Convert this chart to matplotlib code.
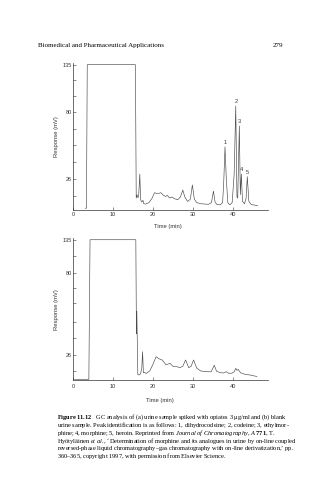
import numpy as np
import matplotlib.pyplot as plt

plt.rcParams['font.family'] = ['Liberation Sans', 'DejaVu Sans']
plt.rcParams['mathtext.fontset'] = 'custom'
plt.rcParams['mathtext.rm'] = 'Liberation Serif'
plt.rcParams['mathtext.it'] = 'Liberation Serif:italic'
plt.rcParams['mathtext.bf'] = 'Liberation Serif:bold'

# (a) urine spiked with opiates, time in min, response in mV
time_a = [3.0, 3.3, 3.5, 15.6, 15.8, 16.0, 16.2, 16.4, 16.7, 16.9, 17.2, 17.5, 17.7,
          18.2, 19.0, 19.8, 20.4, 21.2, 22.0, 22.6, 23.2, 23.6, 24.2, 24.8, 25.4,
          26.2, 26.9, 27.5, 28.0, 28.7, 29.4, 29.9, 30.4, 31.0, 32.0, 33.0, 34.0,
          34.7, 35.2, 35.6, 36.1, 36.9, 37.5, 37.8, 38.1, 38.4, 38.8, 39.3, 39.9,
          40.4, 40.8, 41.1, 41.3, 41.7, 41.95, 42.2, 42.5, 43.0, 43.4, 43.7, 44.1,
          44.7, 45.5, 46.3]
resp_a = [0, 0, 135, 135, 9, 12, 9.5, 10, 30.0, 7.5, 5.5, 7.0, 4.0,
          3.7, 5.0, 9.0, 13.8, 13.0, 13.8, 11.5, 10.5, 11.5, 9.0, 10.0, 8.5,
          7.5, 10.0, 16.2, 10.0, 6.0, 8.0, 20.7, 8.0, 5.0, 4.0, 3.7, 3.5,
          5.0, 15.3, 5.5, 3.2, 3.0, 5.0, 25.0, 52.1, 28.0, 5.0, 3.0, 5.0,
          30.0, 87.3, 10.0, 9.0, 68.9, 12.0, 30.0, 6.0, 4.0, 9.0, 27.9, 6.0,
          3.2, 2.8, 2.2]

# (b) blank urine
time_b = [0.3, 3.9, 4.2, 15.7, 15.85, 15.95, 16.2, 16.5, 16.9, 17.2, 17.4, 17.6,
          17.8, 18.3, 19.2, 20.0, 20.8, 21.5, 22.3, 23.3, 24.3, 25.0, 26.0,
          26.8, 27.5, 28.2, 29.0, 29.6, 30.2, 31.0, 32.0, 33.5, 34.6, 35.4,
          36.0, 37.0, 37.8, 38.4, 39.0, 39.8, 40.4, 40.8, 41.1, 41.4, 42.0,
          43.0, 44.5, 46.1]
resp_b = [0, 0, 135, 135, 40, 55, 5.0, 4.6, 6.0, 12.0, 28.2, 7.0,
          7.5, 6.3, 9.0, 16.0, 24.2, 22.0, 20.7, 15.5, 17.1, 14.0, 13.5,
          12.5, 14.0, 20.7, 12.4, 14.0, 20.7, 12.0, 8.9, 8.2, 8.0, 15.0,
          8.5, 7.0, 6.8, 8.2, 6.5, 6.5, 8.0, 11.8, 9.5, 10.7, 7.0,
          5.5, 4.5, 3.0]

peak_names = ['1', '2', '3', '4', '5']
peak_times = [38.1, 40.8, 41.7, 42.2, 43.7]
peak_resp = [52.1, 87.3, 68.9, 30.0, 27.9]

x_ticks = [0, 10, 20, 30, 40]
y_ticks = [26, 80, 135]

# the printed response axes are not linear: mV value -> height in pixels
scale_a = ([0, 26, 80, 135], [1.5, 30.7, 97.4, 145.0])
scale_b = ([0, 26, 80, 135], [1.0, 25.3, 107.0, 140.6])
minor_a = [11.1, 39.5, 53.3, 66.7, 98.5, 117.0]
minor_b = [9.2, 37.0, 48.0, 60.2, 70.3, 108.8]


def make_scale(mv_pts, px_pts):
    mv = np.array(mv_pts, float)
    px = np.array(px_pts, float)
    lo = (px[1] - px[0]) / (mv[1] - mv[0])
    hi = (px[-1] - px[-2]) / (mv[-1] - mv[-2])
    mv = np.concatenate([[mv[0] - 1000], mv, [mv[-1] + 1000]])
    px = np.concatenate([[px[0] - 1000 * lo], px, [px[-1] + 1000 * hi]])
    return (lambda v: np.interp(v, mv, px)), (lambda p: np.interp(p, px, mv))


def chromatogram(ax, t, r, scale, minor, top_px, tick_pad):
    fwd, inv = make_scale(*scale)
    ax.set_yscale('function', functions=(fwd, inv))
    ax.plot(t, r, color='#4a4a4a', lw=0.45)
    ax.set_xlim(0, 48.9)
    ax.set_ylim(inv(0), inv(top_px))
    ax.set_xticks(x_ticks)
    ax.set_yticks(y_ticks)
    ax.set_yticklabels([str(v) for v in y_ticks])
    ax.set_yticks(minor, minor=True)
    ax.yaxis.set_minor_formatter(plt.NullFormatter())
    for s in ['top', 'right']:
        ax.spines[s].set_visible(False)
    for s in ['left', 'bottom']:
        ax.spines[s].set_linewidth(0.5)
        ax.spines[s].set_color('#333333')
    ax.tick_params(which='both', direction='in', length=2, width=0.4,
                   colors='#333333', labelsize=4)
    ax.tick_params(axis='x', pad=tick_pad)
    ax.tick_params(axis='y', pad=1.2)
    ax.set_ylabel('Response (mV)', fontsize=4.2, color='#333333')
    ax.yaxis.set_label_coords(-0.073, 0.5)


fig = plt.figure(figsize=(3.22, 4.8), dpi=100)

ax_a = fig.add_axes([0.2277, 0.5631, 0.6046, 0.3063])
chromatogram(ax_a, time_a, resp_a, scale_a, minor_a, 147, 1.5)
ax_a.set_xlabel('Time (min)', fontsize=4.2, color='#333333')
ax_a.xaxis.set_label_coords(0.486, -0.1)
for name, t, r in zip(peak_names, peak_times, peak_resp):
    ax_a.annotate(name, (t, r), xytext=(0.3, 1.2), textcoords='offset points',
                  ha='center', va='bottom', fontsize=4, color='#333333')

ax_b = fig.add_axes([0.2277, 0.2077, 0.6046, 0.2958])
chromatogram(ax_b, time_b, resp_b, scale_b, minor_b, 142, 2.8)
ax_b.set_xlabel('Time (min)', fontsize=4.2, color='#333333')
ax_b.xaxis.set_label_coords(0.445, -0.128)

serif = 'Liberation Serif'
fig.text(38 / 322, 1 - 45.7 / 480, 'Biomedical and Pharmaceutical Applications',
         family=serif, fontsize=5, va='center', ha='left')
fig.text(283 / 322, 1 - 45.7 / 480, '279', family=serif, fontsize=5,
         va='center', ha='right')

# every line goes through mathtext so the line heights come out the same
caption = [
    r'$\mathbf{Figure\ 11.12}$   GC analysis of (a) urine sample spiked with opiates 3 μg/ml and (b) blank',
    r'$\mathrm{urine}$ sample. Peak identification is as follows: 1, dihydrocodeine; 2, codeine; 3, ethylmor-',
    r'phine; 4, morphine; 5, heroin. Reprinted from $\mathit{Journal\ of\ Chromatography}$, $\mathit{A}$ $\mathbf{771}$, T.',
    r'Hyötyläinen $\mathit{et\ al.}$, ‘Determination of morphine and its analogues in urine by on-line coupled',
    r'$\mathrm{reversed}$-phase liquid chromatography–gas chromatography with on-line derivatization,’ pp.',
    r'$\mathrm{360}$–365, copyright 1997, with permission from Elsevier Science.',
]
fig.text(56.7 / 322, 1 - 411.8 / 480, '\n'.join(caption), family=serif,
         fontsize=4.6, va='top', ha='left', linespacing=0.72)

fig.savefig('out.png', dpi=100, facecolor='white')
